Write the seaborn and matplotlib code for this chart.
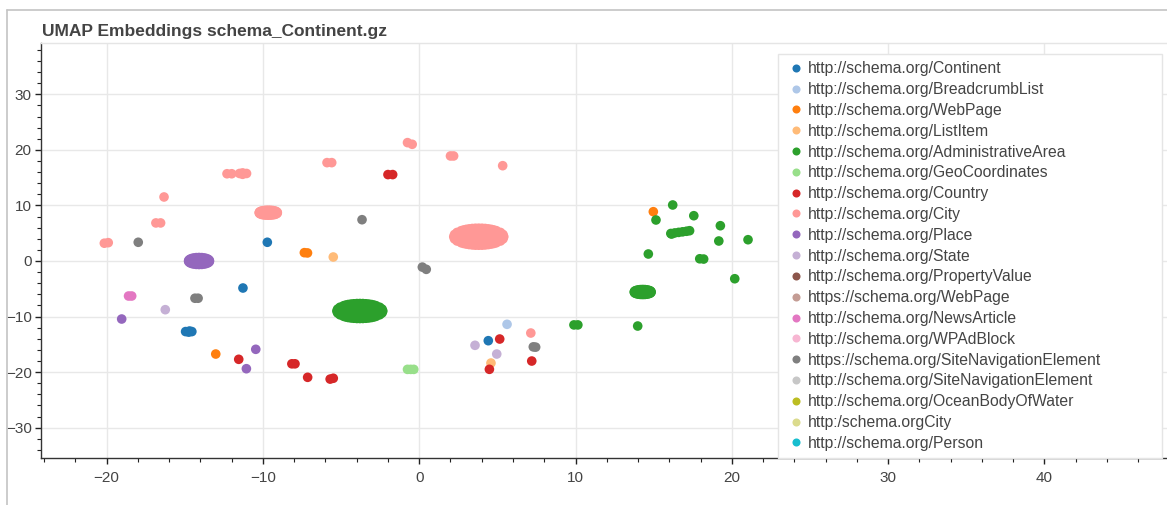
import matplotlib
matplotlib.use("Agg")
import matplotlib.pyplot as plt
from matplotlib.lines import Line2D
from matplotlib.ticker import MultipleLocator
import pandas as pd
import seaborn as sns

# Legend order (and draw order) of the schema types
categories = [
    "http://schema.org/Continent",
    "http://schema.org/BreadcrumbList",
    "http://schema.org/WebPage",
    "http://schema.org/ListItem",
    "http://schema.org/AdministrativeArea",
    "http://schema.org/GeoCoordinates",
    "http://schema.org/Country",
    "http://schema.org/City",
    "http://schema.org/Place",
    "http://schema.org/State",
    "http://schema.org/PropertyValue",
    "https://schema.org/WebPage",
    "http://schema.org/NewsArticle",
    "http://schema.org/WPAdBlock",
    "https://schema.org/SiteNavigationElement",
    "http://schema.org/SiteNavigationElement",
    "http://schema.org/OceanBodyOfWater",
    "http:/schema.orgCity",
    "http://schema.org/Person",
]

colors = [
    "#1f77b4", "#aec7e8", "#ff7f0e", "#ffbb78", "#2ca02c", "#98df8a",
    "#d62728", "#ff9896", "#9467bd", "#c5b0d5", "#8c564b", "#c49c94",
    "#e377c2", "#f7b6d2", "#7f7f7f", "#c7c7c7", "#bcbd22", "#dbdb8d",
    "#17becf",
]

# UMAP coordinates (x, y) per type
continent_pts = [
    (-9.72, 3.37), (-11.28, -4.86),
    (-14.95, -12.7), (-14.75, -12.8), (-14.55, -12.7), (-14.7, -12.6),
    (4.42, -14.34),
]
breadcrumb_pts = [(5.62, -11.39)]
webpage_pts = [(-7.35, 1.5), (-7.15, 1.45), (-13.02, -16.74), (14.98, 8.87)]
listitem_pts = [(-5.5, 0.72), (4.59, -18.36)]
admin_area_pts = [
    # large cluster: outline
    (-2.33, -9.0), (-2.38, -8.65), (-2.53, -8.32), (-2.76, -8.05),
    (-2.9, -7.93), (-3.06, -7.83), (-3.24, -7.75), (-3.42, -7.7),
    (-3.61, -7.66), (-3.8, -7.65), (-3.99, -7.66), (-4.18, -7.7),
    (-4.36, -7.75), (-4.54, -7.83), (-4.7, -7.93), (-4.84, -8.05),
    (-5.07, -8.32), (-5.22, -8.65), (-5.27, -9.0), (-5.22, -9.35),
    (-5.07, -9.68), (-4.84, -9.95), (-4.7, -10.07), (-4.54, -10.17),
    (-4.36, -10.25), (-4.18, -10.3), (-3.99, -10.34), (-3.8, -10.35),
    (-3.61, -10.34), (-3.42, -10.3), (-3.24, -10.25), (-3.06, -10.17),
    (-2.9, -10.07), (-2.76, -9.95), (-2.53, -9.68), (-2.38, -9.35),
    # large cluster: core
    (-4.8, -9.0), (-4.4, -9.0), (-4.0, -9.0), (-3.6, -9.0), (-3.2, -9.0),
    (-2.8, -9.0),
    # right-hand group
    (9.9, -11.5), (10.15, -11.5), (13.98, -11.7),
    (14.84, -5.58), (14.82, -5.463), (14.77, -5.355), (14.68, -5.262),
    (14.57, -5.19), (14.44, -5.145), (14.3, -5.13), (14.16, -5.145),
    (14.03, -5.19), (13.92, -5.262), (13.83, -5.355), (13.78, -5.463),
    (13.76, -5.58), (13.78, -5.697), (13.83, -5.805), (13.92, -5.898),
    (14.03, -5.97), (14.16, -6.015), (14.3, -6.03), (14.44, -6.015),
    (14.57, -5.97), (14.68, -5.898), (14.77, -5.805), (14.82, -5.697),
    (14.3, -5.58),
    (14.66, 1.26), (17.95, 0.4), (18.2, 0.35), (20.19, -3.19),
    (15.15, 7.38), (16.22, 10.08), (17.57, 8.15),
    (16.15, 4.85), (16.1, 4.95), (16.35, 5.05), (16.6, 5.15), (16.85, 5.25),
    (17.1, 5.35), (17.3, 5.45),
    (19.27, 6.35), (19.17, 3.6), (21.04, 3.83),
]
geo_pts = [(-0.75, -19.5), (-0.55, -19.5), (-0.35, -19.5)]
country_pts = [
    (-2.0, 15.55), (-1.7, 15.55), (-11.55, -17.69),
    (-8.15, -18.5), (-7.95, -18.5), (-7.14, -20.93),
    (-5.7, -21.25), (-5.5, -21.1),
    (5.15, -14.04), (4.49, -19.49), (7.2, -18.0),
]
city_pts = [
    (-20.15, 3.2), (-19.9, 3.3), (-16.85, 6.85), (-16.55, 6.85), (-16.33, 11.52),
    (-12.3, 15.7), (-12.0, 15.7),
    (-11.5, 15.75), (-11.05, 15.75), (-11.3, 15.6), (-11.3, 15.85),
    (-9.08, 8.69), (-9.10, 8.807), (-9.16, 8.915), (-9.25, 9.008),
    (-9.37, 9.08), (-9.51, 9.125), (-9.66, 9.14), (-9.81, 9.125),
    (-9.95, 9.08), (-10.07, 9.008), (-10.16, 8.915), (-10.22, 8.807),
    (-10.24, 8.69), (-10.22, 8.573), (-10.16, 8.465), (-10.07, 8.372),
    (-9.95, 8.30), (-9.81, 8.255), (-9.66, 8.24), (-9.51, 8.255),
    (-9.37, 8.30), (-9.25, 8.372), (-9.16, 8.465), (-9.10, 8.573),
    (-9.66, 8.69),
    (-5.9, 17.7), (-5.6, 17.7), (-0.75, 21.3), (-0.45, 21.0),
    (2.0, 18.9), (2.2, 18.9), (5.34, 17.15), (7.14, -12.96),
    # large cluster: outline
    (5.41, 4.37), (5.36, 4.77), (5.2, 5.14), (4.94, 5.45), (4.78, 5.58),
    (4.61, 5.69), (4.42, 5.78), (4.22, 5.85), (4.02, 5.89), (3.81, 5.9),
    (3.6, 5.89), (3.4, 5.85), (3.2, 5.78), (3.01, 5.69), (2.84, 5.58),
    (2.68, 5.45), (2.42, 5.14), (2.26, 4.77), (2.21, 4.37), (2.26, 3.97),
    (2.42, 3.6), (2.68, 3.29), (2.84, 3.16), (3.01, 3.05), (3.2, 2.96),
    (3.4, 2.89), (3.6, 2.85), (3.81, 2.84), (4.02, 2.85), (4.22, 2.89),
    (4.42, 2.96), (4.61, 3.05), (4.78, 3.16), (4.94, 3.29), (5.2, 3.6),
    (5.36, 3.97),
    # large cluster: core
    (2.55, 4.37), (2.95, 4.37), (3.35, 4.37), (3.75, 4.37), (4.15, 4.37),
    (4.55, 4.37), (4.95, 4.37),
    (3.0, 4.8), (3.8, 4.8), (4.6, 4.8), (3.0, 3.95), (3.8, 3.95), (4.6, 3.95),
]
place_pts = [
    (-13.42, 0.0), (-13.443, 0.163), (-13.51, 0.315), (-13.616, 0.445),
    (-13.755, 0.55), (-13.916, 0.609), (-14.09, 0.63), (-14.264, 0.609),
    (-14.425, 0.55), (-14.564, 0.445), (-14.67, 0.315), (-14.737, 0.163),
    (-14.76, 0.0), (-14.737, -0.163), (-14.67, -0.315), (-14.564, -0.445),
    (-14.425, -0.55), (-14.264, -0.609), (-14.09, -0.63), (-13.916, -0.609),
    (-13.755, -0.55), (-13.616, -0.445), (-13.51, -0.315), (-13.443, -0.163),
    (-14.43, 0.0), (-14.09, 0.0), (-13.75, 0.0),
    (-19.04, -10.44), (-10.46, -15.89), (-11.06, -19.38),
]
state_pts = [(-16.25, -8.76), (3.57, -15.17), (4.96, -16.74)]
news_pts = [(-18.6, -6.3), (-18.4, -6.3)]
site_nav_https_pts = [
    (-17.98, 3.37), (-14.35, -6.7), (-14.15, -6.7), (-3.66, 7.43),
    (0.2, -1.1), (0.45, -1.5), (7.3, -15.45), (7.45, -15.5),
]

points_by_type = {
    "http://schema.org/Continent": continent_pts,
    "http://schema.org/BreadcrumbList": breadcrumb_pts,
    "http://schema.org/WebPage": webpage_pts,
    "http://schema.org/ListItem": listitem_pts,
    "http://schema.org/AdministrativeArea": admin_area_pts,
    "http://schema.org/GeoCoordinates": geo_pts,
    "http://schema.org/Country": country_pts,
    "http://schema.org/City": city_pts,
    "http://schema.org/Place": place_pts,
    "http://schema.org/State": state_pts,
    "http://schema.org/NewsArticle": news_pts,
    "https://schema.org/SiteNavigationElement": site_nav_https_pts,
}

rows = []
for cat in categories:
    for x, y in points_by_type.get(cat, []):
        rows.append({"x": x, "y": y, "label": cat})
df = pd.DataFrame(rows)

palette = dict(zip(categories, colors))

sns.set_style("white")
plt.rcParams["font.family"] = ["Liberation Sans", "DejaVu Sans"]

fig = plt.figure(figsize=(11.67, 5.05), dpi=100)
ax = fig.add_axes([0.0349, 0.0925, 0.9651, 0.8214])

present = [c for c in categories if c in points_by_type]
sns.scatterplot(
    data=df, x="x", y="y", hue="label", hue_order=present, palette=palette,
    s=48, linewidth=0, alpha=1.0, legend=False, ax=ax, zorder=3,
)

ax.set_xlim(-24.22, 47.85)
ax.set_ylim(-35.5, 39.14)
ax.set_xlabel("")
ax.set_ylabel("")

ax.xaxis.set_major_locator(MultipleLocator(10))
ax.xaxis.set_minor_locator(MultipleLocator(2))
ax.yaxis.set_major_locator(MultipleLocator(10))
ax.yaxis.set_minor_locator(MultipleLocator(2))

ax.grid(True, which="major", color="#e8e8e8", linewidth=1.0)
ax.set_axisbelow(True)

for side in ("left", "bottom"):
    ax.spines[side].set_color("#333333")
    ax.spines[side].set_linewidth(1.0)
ax.spines["top"].set_color("#e5e5e5")
ax.spines["top"].set_linewidth(1.0)
ax.spines["right"].set_visible(False)

ax.tick_params(axis="both", which="major", direction="out", length=4.5,
               width=1.0, color="#222222", labelsize=11, labelcolor="#444444")
ax.tick_params(axis="both", which="minor", direction="out", length=2.8,
               width=0.8, color="#222222")
ax.tick_params(axis="y", which="major", pad=2)
ax.tick_params(axis="x", which="major", pad=5)
ax.tick_params(left=True, bottom=True, which="both")

handles = [
    Line2D([0], [0], marker="o", linestyle="none", markersize=5.8,
           markerfacecolor=c, markeredgewidth=0, label=lab)
    for lab, c in zip(categories, colors)
]
leg = ax.legend(
    handles=handles, loc="upper left",
    bbox_to_anchor=(0.6546, 0.0, 0.341, 0.974), mode="expand",
    fontsize=11.3, labelspacing=0.37, handlelength=1.39, handletextpad=0.07,
    borderpad=0.45, frameon=True, fancybox=False, framealpha=1.0,
    edgecolor="#e5e5e5", borderaxespad=0,
)
leg.get_frame().set_linewidth(1.0)
for t in leg.get_texts():
    t.set_color("#444444")

fig.text(0.036, 1 - 36 / 505, "UMAP Embeddings schema_Continent.gz",
         fontsize=12.5, fontweight="bold", color="#444444",
         ha="left", va="baseline")

# Outer panel border
fig.add_artist(Line2D([6.5 / 1167, 6.5 / 1167], [0, 1 - 10 / 505],
                      transform=fig.transFigure, color="#c4c4c4", linewidth=1.2))
fig.add_artist(Line2D([6.5 / 1167, 1], [1 - 10 / 505, 1 - 10 / 505],
                      transform=fig.transFigure, color="#c4c4c4", linewidth=1.2))

fig.savefig("out.png", dpi=100)
